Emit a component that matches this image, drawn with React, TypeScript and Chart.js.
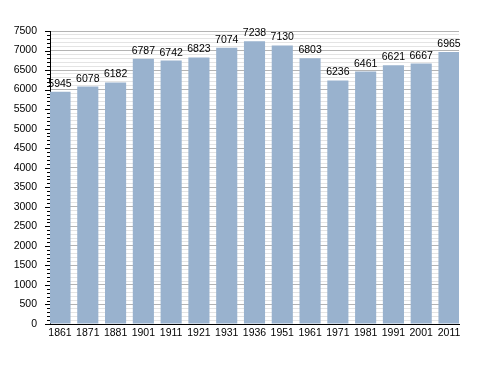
import React, { useEffect, useRef } from "react";
import { Chart, registerables } from "chart.js";

Chart.register(...registerables);

const years: string[] = ["1861", "1871", "1881", "1901", "1911", "1921", "1931", "1936", "1951", "1961", "1971", "1981", "1991", "2001", "2011"];
const population: number[] = [5945, 6078, 6182, 6787, 6742, 6823, 7074, 7238, 7130, 6803, 6236, 6461, 6621, 6667, 6965];
const yMax = 7500;
const yMinorStep = 100;
const yMajorStep = 500;

const FONT = "'Liberation Sans', Arial, sans-serif";

const overlayPlugin = {
  id: "overlay",
  afterDatasetsDraw(chart: any) {
    const ctx = chart.ctx;
    const meta = chart.getDatasetMeta(0);
    ctx.save();
    ctx.font = `10.5px ${FONT}`;
    ctx.fillStyle = "#000";
    ctx.textAlign = "center";
    ctx.textBaseline = "alphabetic";
    meta.data.forEach((bar: any, i: number) => {
      ctx.fillText(String(population[i]), bar.x, bar.y - 5);
    });
    const ys = chart.scales.y;
    ctx.strokeStyle = "#000";
    ctx.lineWidth = 1;
    ys.ticks.forEach((t: any) => {
      const py = Math.round(ys.getPixelForValue(t.value)) + 0.5;
      const len = t.value % yMajorStep === 0 ? 5 : 3;
      ctx.beginPath();
      ctx.moveTo(ys.right - len, py);
      ctx.lineTo(ys.right, py);
      ctx.stroke();
    });
    ctx.restore();
  },
};

export default function App() {
  const canvasRef = useRef<HTMLCanvasElement | null>(null);
  useEffect(() => {
    if (!canvasRef.current) return;
    const chart = new Chart(canvasRef.current, {
      type: "bar",
      data: {
        datasets: [
          {
            data: population.map((v, i) => ({ x: i, y: v })),
            backgroundColor: "rgb(153,178,206)",
            borderWidth: 0,
            barPercentage: 0.76,
            categoryPercentage: 1,
          },
        ],
      },
      options: {
        animation: false,
        responsive: true,
        maintainAspectRatio: false,
        layout: { padding: { top: 31, right: 29, left: 0, bottom: 0 } },
        plugins: { legend: { display: false }, tooltip: { enabled: false } },
        scales: {
          x: {
            type: "linear",
            offset: false,
            min: -0.36,
            max: years.length - 1 + 0.36,
            afterBuildTicks: (scale: any) => {
              scale.ticks = years.map((_, i) => ({ value: i }));
            },
            afterFit: (scale: any) => {
              scale.height = 49;
            },
            grid: { display: false, drawTicks: false, offset: false },
            border: { display: true, color: "#000", width: 1 },
            ticks: {
              autoSkip: false,
              maxRotation: 0,
              padding: 3,
              color: "#000",
              font: { family: FONT, size: 10.5 },
              callback: (v: any) => years[Math.round(Number(v))] ?? "",
            },
          },
          y: {
            min: 0,
            max: yMax,
            afterFit: (scale: any) => {
              scale.width = 50;
            },
            grid: {
              drawTicks: false,
              color: (c: any) => (c.tick && c.tick.value % yMajorStep === 0 ? "#b4b4b4" : "#e4e4e4"),
              lineWidth: 1,
            },
            border: { display: true, color: "#000", width: 1 },
            ticks: {
              stepSize: yMinorStep,
              autoSkip: false,
              padding: 13,
              color: "#000",
              font: { family: FONT, size: 10.5 },
              callback: (v: any) => (Number(v) % yMajorStep === 0 ? String(v) : ""),
            },
          },
        },
      },
      plugins: [overlayPlugin],
    } as any);
    return () => chart.destroy();
  }, []);
  return (
    <div style={{ position: "fixed", left: 0, top: 0, width: 488, height: 373, background: "#fff" }}>
      <canvas ref={canvasRef} />
    </div>
  );
}
